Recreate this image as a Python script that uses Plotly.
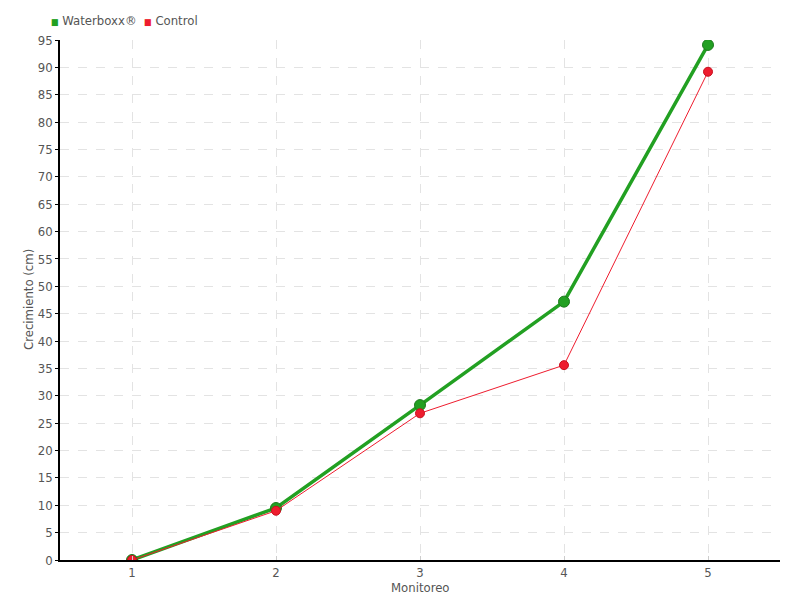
import plotly.graph_objects as go

monitoreo = [1, 2, 3, 4, 5]
waterboxx = [0, 9.5, 28.3, 47.2, 94.1]
control = [0, 9.0, 26.8, 35.6, 89.2]
y_ticks = list(range(0, 100, 5))
series_names = ["Waterboxx®", "Control"]
x_title = "Monitoreo"
y_title = "Crecimiento (cm)"

FONT = "DejaVu Sans Condensed"
GREEN = "#22a022"
RED = "#ee1c2e"
TXT = "#555555"

fig = go.Figure()
fig.add_trace(go.Scatter(
    x=monitoreo, y=waterboxx, name=series_names[0], mode="lines+markers", showlegend=False,
    line=dict(color=GREEN, width=3.5),
    marker=dict(size=11, color=GREEN, line=dict(color="#1c7a1c", width=1), symbol="circle"),
))
fig.add_trace(go.Scatter(
    x=monitoreo, y=control, name=series_names[1], mode="lines+markers", showlegend=False,
    line=dict(color=RED, width=1),
    marker=dict(size=9, color=RED, line=dict(color="#c8101e", width=1), symbol="circle"),
))

legend_text = (f"<span style='color:{GREEN};font-size:9px'>■</span> {series_names[0]}  "
               f"<span style='color:{RED};font-size:9px'>■</span> {series_names[1]}")
fig.add_annotation(text=legend_text, xref="paper", yref="paper", x=-0.015, y=1.0,
                   xanchor="left", yanchor="bottom", yshift=10, showarrow=False,
                   font=dict(size=13, color=TXT, family=FONT))
fig.add_annotation(text=x_title, xref="paper", yref="paper", x=0.5, y=0,
                   xanchor="center", yanchor="middle", yshift=-27, showarrow=False,
                   font=dict(size=13, color=TXT, family=FONT))
fig.add_annotation(text=y_title, xref="paper", yref="paper", x=0, y=0.5, textangle=-90,
                   xanchor="center", yanchor="middle", xshift=-32, showarrow=False,
                   font=dict(size=13, color=TXT, family=FONT))

fig.update_layout(
    width=800, height=600,
    margin=dict(l=52, r=28, t=32, b=48, autoexpand=False),
    paper_bgcolor="white", plot_bgcolor="white",
    font=dict(family=FONT, size=13, color=TXT),
    showlegend=False,
    xaxis=dict(
        range=[0.5, 5.5], tickvals=monitoreo, ticktext=[str(v) for v in monitoreo],
        showline=True, linecolor="black", linewidth=1.5,
        showgrid=True, gridcolor="#e3e3e3", griddash="dash", gridwidth=1,
        ticks="inside", ticklen=4, tickcolor="#cccccc",
        zeroline=False, ticklabelstandoff=0,
        tickfont=dict(size=13, color=TXT),
    ),
    yaxis=dict(
        range=[0, 95], tickvals=y_ticks,
        showline=True, linecolor="black", linewidth=1.5,
        showgrid=True, gridcolor="#e3e3e3", griddash="dash", gridwidth=1,
        ticks="outside", ticklen=3, tickcolor="black",
        zeroline=False,
        tickfont=dict(size=13, color=TXT),
    ),
)

fig.write_html("out.html")
